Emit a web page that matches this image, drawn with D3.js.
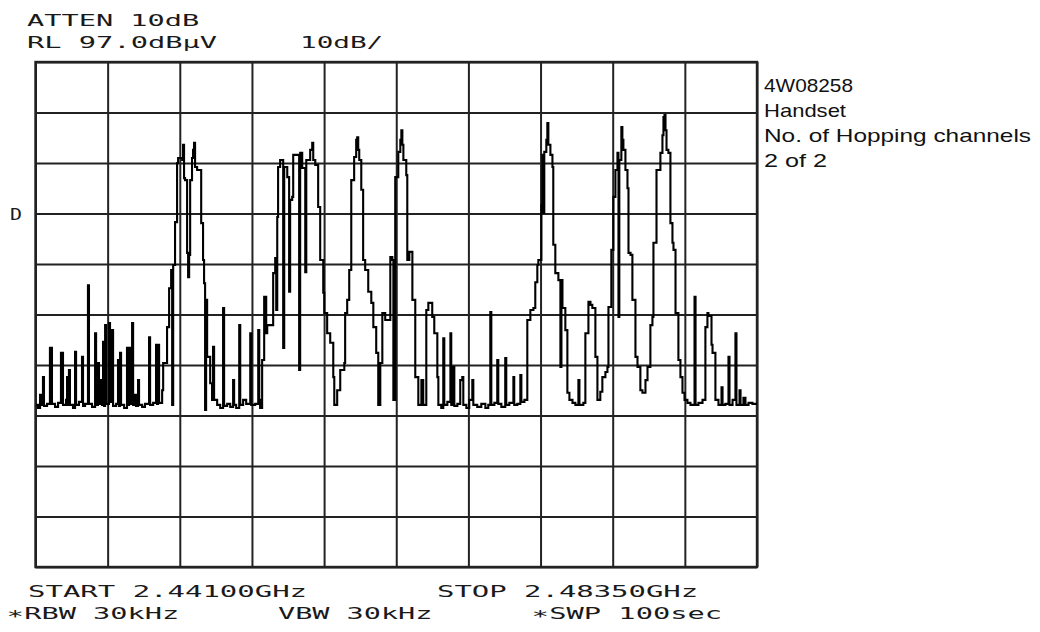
<!DOCTYPE html>
<html>
<head>
<meta charset="utf-8">
<script src="https://cdn.jsdelivr.net/npm/d3@7"></script>
<style>
  html, body { margin: 0; padding: 0; background: #fff; }
  svg { display: block; }
  .hp { font-family: "DejaVu Sans Mono", monospace; font-size: 16px; fill: #1a1a1a; }
  .note { font-family: "Liberation Sans", Arial, sans-serif; font-size: 19px; fill: #111; }
</style>
</head>
<body>
<div id="chart"></div>
<script>
// analyzer settings
const startMHz = 2441.0;
const stopMHz = 2483.5;
const refLevelDb = 97;
const dbPerDiv = 10;
const divisions = 10;

// texts
const headerText = ['ATTEN 10dB', 'RL 97.0dBμV', '10dB/'];
const footerText = ['START 2.44100GHz', 'STOP 2.48350GHz', '∗RBW 30kHz', 'VBW 30kHz', '∗SWP 100sec'];
const markerText = ['D'];
const noteLines = ['4W08258', 'Handset', 'No. of Hopping channels', '2 of 2'];

// trace: [offset from start in MHz, level in dBµV]
const trace = [
  [0.03,29.1],[0.15,28.5],[0.27,31.1],[0.32,29.1],[0.44,34.6],[0.50,28.9],[0.68,29.3],[0.85,40.4],[0.97,29.3],
  [1.15,28.7],[1.33,29.5],[1.50,39.4],[1.62,29.1],[1.80,30.1],[1.86,34.6],[1.92,29.1],[1.97,36.0],[2.03,29.1],
  [2.21,28.5],[2.33,39.6],[2.39,29.1],[2.56,29.7],[2.74,38.6],[2.80,28.9],[2.92,29.3],[3.09,52.8],[3.15,29.3],
  [3.33,28.7],[3.51,43.3],[3.57,29.1],[3.68,37.4],[3.74,29.3],[3.86,34.0],[3.92,29.1],[3.98,41.6],[4.04,28.9],
  [4.10,44.9],[4.16,29.3],[4.33,45.3],[4.39,29.7],[4.51,43.9],[4.57,28.9],[4.75,29.3],[4.86,38.0],[4.92,28.9],
  [4.98,39.4],[5.04,29.1],[5.22,28.5],[5.39,40.4],[5.45,29.1],[5.51,40.4],[5.57,29.3],[5.69,45.3],[5.75,29.1],
  [5.87,31.1],[5.92,28.9],[6.04,34.0],[6.10,29.1],[6.28,28.7],[6.45,29.3],[6.69,42.5],[6.75,29.1],[6.93,29.5],
  [7.10,41.0],[7.16,29.3],[7.22,41.0],[7.28,29.5],[7.46,32.0],[7.52,37.4],[7.75,44.5],[7.87,52.2],[7.99,55.8],
  [8.05,29.1],[8.11,56.8],[8.22,65.3],[8.34,77.0],[8.40,78.0],[8.64,77.6],[8.69,80.6],[8.75,74.0],[8.81,73.6],
  [8.93,59.2],[8.99,54.4],[9.05,58.8],[9.11,73.6],[9.22,78.0],[9.28,79.6],[9.34,81.0],[9.40,76.2],[9.52,75.6],
  [9.76,65.1],[9.87,57.8],[9.93,53.2],[9.99,28.1],[10.05,49.9],[10.11,38.6],[10.29,33.4],[10.40,30.1],[10.46,40.6],
  [10.52,30.1],[10.70,29.1],[10.88,28.5],[11.05,48.3],[11.11,28.9],[11.29,29.3],[11.47,28.7],[11.64,34.0],[11.70,29.1],
  [11.82,28.5],[12.00,44.9],[12.06,29.1],[12.23,30.1],[12.41,29.3],[12.65,43.3],[12.71,29.1],[12.94,29.3],[13.12,43.9],
  [13.18,30.1],[13.23,28.5],[13.35,38.0],[13.47,50.5],[13.59,43.3],[13.65,44.9],[13.82,44.9],[14.00,55.2],[14.12,58.2],
  [14.18,47.9],[14.24,66.3],[14.29,76.2],[14.41,77.6],[14.53,77.6],[14.59,40.4],[14.65,76.2],[14.83,74.2],[14.94,51.5],
  [15.00,69.7],[15.12,70.3],[15.18,78.6],[15.36,78.6],[15.53,36.0],[15.59,79.0],[15.71,76.0],[15.89,55.4],[15.95,77.6],
  [16.18,79.6],[16.30,81.0],[16.36,77.6],[16.48,76.6],[16.65,68.3],[16.77,57.8],[16.95,51.3],[17.01,47.3],[17.18,43.3],
  [17.36,41.4],[17.54,34.6],[17.60,29.1],[17.77,32.0],[17.95,36.0],[18.19,37.4],[18.24,47.3],[18.36,49.9],[18.48,55.8],
  [18.60,73.6],[18.77,78.2],[18.89,81.6],[18.95,82.1],[19.01,79.6],[19.07,77.6],[19.19,71.7],[19.30,57.8],[19.42,55.8],
  [19.60,51.5],[19.78,49.3],[19.90,44.5],[20.07,39.4],[20.19,29.1],[20.31,37.4],[20.43,47.3],[20.60,45.9],[20.72,45.9],
  [20.90,58.4],[21.02,57.8],[21.08,30.1],[21.19,74.2],[21.37,79.2],[21.49,81.6],[21.55,83.5],[21.61,80.6],[21.67,77.6],
  [21.84,74.6],[21.90,57.8],[22.02,59.4],[22.08,59.4],[22.20,49.9],[22.37,34.6],[22.55,29.1],[22.73,34.0],[22.84,29.1],
  [23.02,47.9],[23.14,49.3],[23.37,46.5],[23.49,43.3],[23.67,34.6],[23.73,29.1],[23.90,28.5],[24.02,42.3],[24.08,29.1],
  [24.26,29.7],[24.44,43.3],[24.49,29.1],[24.61,36.6],[24.67,28.9],[24.85,29.3],[25.02,34.0],[25.14,34.6],[25.20,29.1],
  [25.38,28.5],[25.55,30.1],[25.73,34.0],[25.79,29.1],[26.02,28.7],[26.26,29.3],[26.50,28.5],[26.67,29.1],[26.79,47.5],
  [26.85,29.1],[27.03,29.5],[27.20,38.0],[27.26,29.3],[27.44,28.7],[27.67,38.4],[27.73,29.1],[27.91,29.5],[28.15,34.6],
  [28.20,29.1],[28.38,29.3],[28.56,35.0],[28.62,29.7],[28.80,30.1],[28.97,45.9],[29.15,47.9],[29.33,48.3],[29.44,53.4],
  [29.56,56.8],[29.62,57.8],[29.80,68.7],[29.86,78.6],[29.92,67.1],[29.97,79.2],[30.09,81.6],[30.15,84.9],[30.21,80.6],
  [30.33,78.6],[30.45,76.2],[30.50,60.8],[30.62,55.2],[30.80,53.8],[30.92,36.6],[30.98,53.8],[31.04,48.3],[31.21,43.9],
  [31.33,31.5],[31.45,30.1],[31.63,29.5],[31.80,29.1],[31.98,34.0],[32.04,29.1],[32.27,29.5],[32.39,43.3],[32.57,49.5],
  [32.69,48.9],[32.80,48.3],[32.98,38.6],[33.10,30.1],[33.27,31.7],[33.39,34.6],[33.57,35.6],[33.69,36.6],[33.75,48.5],
  [33.92,59.8],[34.04,70.3],[34.16,75.6],[34.28,79.0],[34.34,46.5],[34.39,77.6],[34.51,84.1],[34.57,81.6],[34.63,79.6],
  [34.75,75.6],[34.87,72.0],[34.93,59.2],[35.05,58.8],[35.16,49.9],[35.34,38.6],[35.46,36.6],[35.63,32.0],[35.75,31.5],
  [35.93,34.0],[36.05,36.6],[36.22,44.9],[36.34,46.5],[36.40,61.2],[36.58,75.6],[36.81,79.0],[36.93,82.5],[36.99,86.1],
  [37.05,86.5],[37.11,83.5],[37.17,79.6],[37.28,79.0],[37.40,65.1],[37.52,61.2],[37.58,59.8],[37.70,47.3],[37.87,38.0],
  [37.99,34.6],[38.11,31.5],[38.23,30.1],[38.40,29.5],[38.58,29.1],[38.82,50.5],[38.88,29.1],[39.05,29.5],[39.29,30.1],
  [39.46,44.5],[39.58,47.3],[39.64,46.7],[39.82,41.0],[39.88,39.4],[40.05,30.1],[40.23,29.1],[40.41,32.6],[40.47,29.1],
  [40.64,29.3],[40.82,38.6],[40.88,29.1],[41.06,30.1],[41.23,43.3],[41.29,29.1],[41.47,32.0],[41.53,29.1],[41.70,30.5],
  [41.82,29.1],[42.00,29.5],[42.23,29.3],[42.50,29.3]
];

const W = 1040, H = 632;
const plot = { left: 35.5, right: 757, top: 62, bottom: 567 };
const hpPitch = 17.8;

const svg = d3.select('#chart')
  .append('svg')
  .attr('width', W)
  .attr('height', H);

svg.append('rect').attr('width', W).attr('height', H).attr('fill', '#fff');

const x = d3.scaleLinear()
  .domain([0, stopMHz - startMHz])
  .range([plot.left, plot.right]);

const y = d3.scaleLinear()
  .domain([refLevelDb - dbPerDiv * divisions, refLevelDb])
  .range([plot.bottom, plot.top]);

const span = stopMHz - startMHz;
const xDivs = d3.range(divisions + 1).map(i => i * span / divisions);
const yDivs = d3.range(divisions + 1).map(i => refLevelDb - i * dbPerDiv);

// graticule
const gx = svg.append('g')
  .attr('transform', `translate(0,${plot.bottom})`)
  .call(d3.axisBottom(x).tickValues(xDivs).tickSize(-(plot.bottom - plot.top)).tickFormat(''));
const gy = svg.append('g')
  .attr('transform', `translate(${plot.left},0)`)
  .call(d3.axisLeft(y).tickValues(yDivs).tickSize(-(plot.right - plot.left)).tickFormat(''));
[gx, gy].forEach(g => {
  g.select('.domain').remove();
  g.selectAll('.tick line').attr('stroke', '#222').attr('stroke-width', 2);
});

svg.append('rect')
  .attr('x', plot.left)
  .attr('y', plot.top)
  .attr('width', plot.right - plot.left)
  .attr('height', plot.bottom - plot.top)
  .attr('fill', 'none')
  .attr('stroke', '#222')
  .attr('stroke-width', 2.4);

// trace
const line = d3.line()
  .x(d => x(d[0]))
  .y(d => y(d[1]))
  .curve(d3.curveStepAfter);

svg.append('path')
  .datum(trace)
  .attr('d', line)
  .attr('fill', 'none')
  .attr('stroke', '#000')
  .attr('stroke-width', 2.1)
  .attr('stroke-linejoin', 'miter');

// instrument style text
function hpText(px, py, str) {
  svg.append('text')
    .attr('class', 'hp')
    .attr('x', px)
    .attr('y', py)
    .attr('textLength', (str.length - 1) * hpPitch + 12)
    .attr('lengthAdjust', 'spacingAndGlyphs')
    .text(str);
}

hpText(27, 26, headerText[0]);
hpText(27, 48, headerText[1]);
hpText(300, 48, headerText[2]);

hpText(28, 597, footerText[0]);
hpText(437, 597, footerText[1]);
hpText(7, 619, footerText[2]);
hpText(278, 619, footerText[3]);
hpText(532, 619, footerText[4]);

hpText(10, y(67) + 6, markerText[0]);

// notes on the right
const noteWidths = [89, 82, 267, 63];
noteLines.forEach((t, i) => {
  svg.append('text')
    .attr('class', 'note')
    .attr('x', 764)
    .attr('y', 92 + i * 25)
    .attr('textLength', noteWidths[i])
    .attr('lengthAdjust', 'spacingAndGlyphs')
    .text(t);
});
</script>
</body>
</html>
